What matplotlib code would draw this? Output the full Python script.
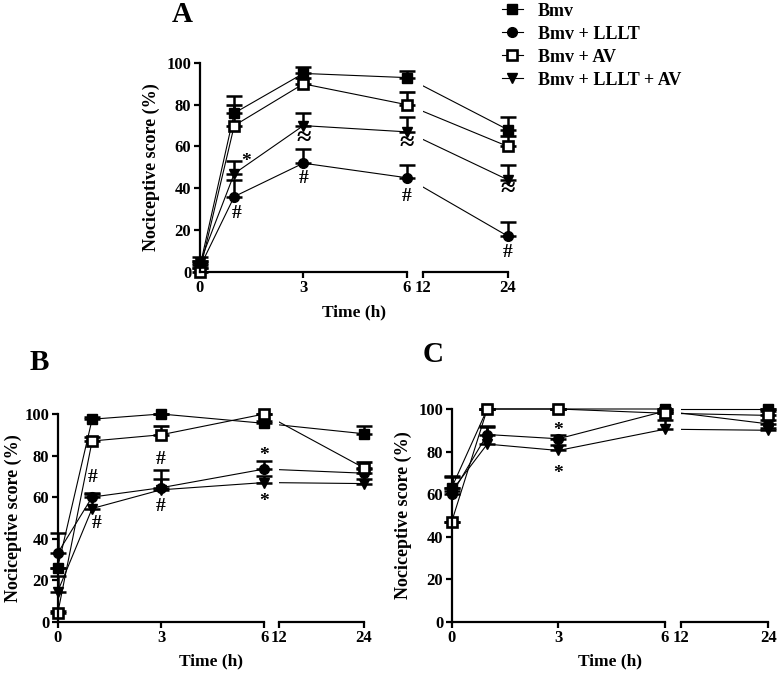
import matplotlib
matplotlib.use('Agg')
import matplotlib.pyplot as plt
from matplotlib.lines import Line2D
from matplotlib.transforms import Bbox, TransformedBbox

plt.rcParams['font.family'] = ['Liberation Serif', 'DejaVu Serif']
plt.rcParams['font.weight'] = 'bold'

# ---- data ----
times = [0, 1, 3, 6, 24]
groups = ['Bmv', 'Bmv + LLLT', 'Bmv + AV', 'Bmv + LLLT + AV']

# panel A
bmv_a = [2, 76, 95, 93, 68]
bmv_a_err = [3, 8, 3, 3, 6]
lllt_a = [2, 36, 52, 45, 17]
lllt_a_err = [3, 8, 7, 6, 7]
av_a = [0, 70, 90, 80, 60]
av_a_err = [3, 10, 3, 6, 5]
lllt_av_a = [4, 47, 70, 67, 44]
lllt_av_a_err = [3, 6, 6, 7, 7]

# panel B
bmv_b = [26, 97.5, 100, 95.5, 90.5]
bmv_b_err = [0, 1, 0, 1, 3.5]
lllt_b = [33, 60, 64.5, 73.5, 71.5]
lllt_b_err = [9.5, 2, 4, 4, 2]
av_b = [4, 87, 90, 100, 74]
av_b_err = [1, 2, 4, 0, 3]
lllt_av_b = [14.5, 54.5, 63.5, 67, 66.5]
lllt_av_b_err = [7.5, 7, 9.5, 3, 2]

# panel C
bmv_c = [63, 100, 100, 100, 100]
bmv_c_err = [5, 0, 0, 0, 0]
lllt_c = [60, 88, 86, 99, 93]
lllt_c_err = [3, 4, 2, 0, 2]
av_c = [47, 100, 100, 98, 97]
av_c_err = [0, 0, 0, 0, 2]
lllt_av_c = [61.5, 83.5, 80.5, 90.5, 90]
lllt_av_c_err = [7, 8, 2.5, 4.5, 1]

# significance marks (time, score, symbol)
marks_a = [(1.35, 53, '*'), (1.08, 28, '#'), (3, 64, '≈'), (3, 44.5, '#'),
           (6, 61.5, '≈'), (6, 36, '#'), (24, 39.5, '≈'), (24, 9, '#')]
marks_b = [(1.02, 69.5, '#'), (1.13, 47.5, '#'), (3, 78, '#'), (3, 55.5, '#'),
           (6, 80, '*'), (6, 58, '*')]
marks_c = [(3, 90, '*'), (3, 69.5, '*')]

W, H = 778, 674
fig = plt.figure(figsize=(W / 100, H / 100), dpi=100)

styles = [dict(marker='s', ms=6.5, mfc='black'),
          dict(marker='o', ms=7, mfc='black'),
          dict(marker='s', ms=6.5, mfc='white', mew=1.9),
          dict(marker='v', ms=7.5, mfc='black')]


def px_axes(x0, y0, x1, y1):
    return fig.add_axes([x0 / W, 1 - y1 / H, (x1 - x0) / W, (y1 - y0) / H])


def errbar(ax, x, y, e, **st):
    c = ax.errorbar(x, y, yerr=[[0] * len(e), e], color='black', mec='black',
                    capsize=5.5, capthick=1.8, elinewidth=1.8, **st)
    for a in c.get_children():
        a.set_clip_on(False)
    return c


def panel(box, series, marks, letter, letter_xy, ylabel_x, xlabel_y):
    x0, ytop, xb1, xb2, x1, ybot = box
    ax1 = px_axes(x0, ytop, xb1, ybot)
    ax2 = px_axes(xb2, ytop, x1, ybot)
    for ax in (ax1, ax2):
        ax.set_ylim(0, 100)
        ax.set_facecolor('none')
        ax.spines['top'].set_visible(False)
        ax.spines['right'].set_visible(False)
        for s in ax.spines.values():
            s.set_linewidth(1.6)
        ax.tick_params(length=4, width=1.6, labelsize=12, pad=2)
    ax1.set_xlim(0, 6)
    ax1.set_xticks([0, 3, 6])
    ax1.set_yticks(range(0, 101, 20))
    ax2.set_xlim(12, 24)
    ax2.set_xticks([12, 24])
    ax2.set_yticks([])
    ax2.spines['left'].set_visible(False)
    # where the 6 h point would sit in ax2 data units (line crosses the gap)
    x6 = 12 - (xb2 - xb1) * 12.0 / (x1 - xb2)
    clip = TransformedBbox(Bbox([[12, -20], [30, 120]]), ax2.transData)
    for (y, e), st in zip(series, styles):
        errbar(ax1, times[:4], y[:4], e[:4], lw=0.8, **st)
        ln, = ax2.plot([x6, times[4]], [y[3], y[4]], color='black', lw=0.8)
        ln.set_clip_box(clip)
        errbar(ax2, times[4:], y[4:], e[4:], ls='none', **st)
    for t, v, sym in marks:
        ax = ax1 if t <= 6 else ax2
        ax.text(t, v, sym, ha='center', va='center',
                fontsize=19 if sym == '≈' else 14,
                fontweight='bold', clip_on=False)
    fig.text(letter_xy[0] / W, 1 - letter_xy[1] / H, letter, fontsize=21,
             fontweight='bold', ha='center', va='center')
    fig.text(ylabel_x / W, 1 - (ytop + ybot) / 2 / H, 'Nociceptive score (%)',
             rotation=90, ha='center', va='center', fontsize=13, fontweight='bold')
    fig.text((x0 + x1) / 2 / W, 1 - xlabel_y / H, 'Time (h)',
             ha='center', va='center', fontsize=12.5, fontweight='bold')


panel((199.7, 63, 407, 422.7, 508, 271.7),
      [(bmv_a, bmv_a_err), (lllt_a, lllt_a_err), (av_a, av_a_err), (lllt_av_a, lllt_av_a_err)],
      marks_a, 'A', (182, 15), 151, 312)
panel((57.7, 414, 264.3, 279.3, 364, 621.7),
      [(bmv_b, bmv_b_err), (lllt_b, lllt_b_err), (av_b, av_b_err), (lllt_av_b, lllt_av_b_err)],
      marks_b, 'B', (39, 363), 13, 661)
panel((451.7, 409, 665, 680.7, 768.3, 621.7),
      [(bmv_c, bmv_c_err), (lllt_c, lllt_c_err), (av_c, av_c_err), (lllt_av_c, lllt_av_c_err)],
      marks_c, 'C', (433, 354), 403, 661)

handles = [Line2D([], [], color='black', lw=0.8, mec='black', **st) for st in styles]
fig.legend(handles, groups, loc='upper left', bbox_to_anchor=(489 / W, 1 + 10 / H),
           frameon=False, fontsize=13, handlelength=1.2, handletextpad=0.8,
           labelspacing=0.33, borderpad=0.2)

plt.savefig('out.png', dpi=100)
